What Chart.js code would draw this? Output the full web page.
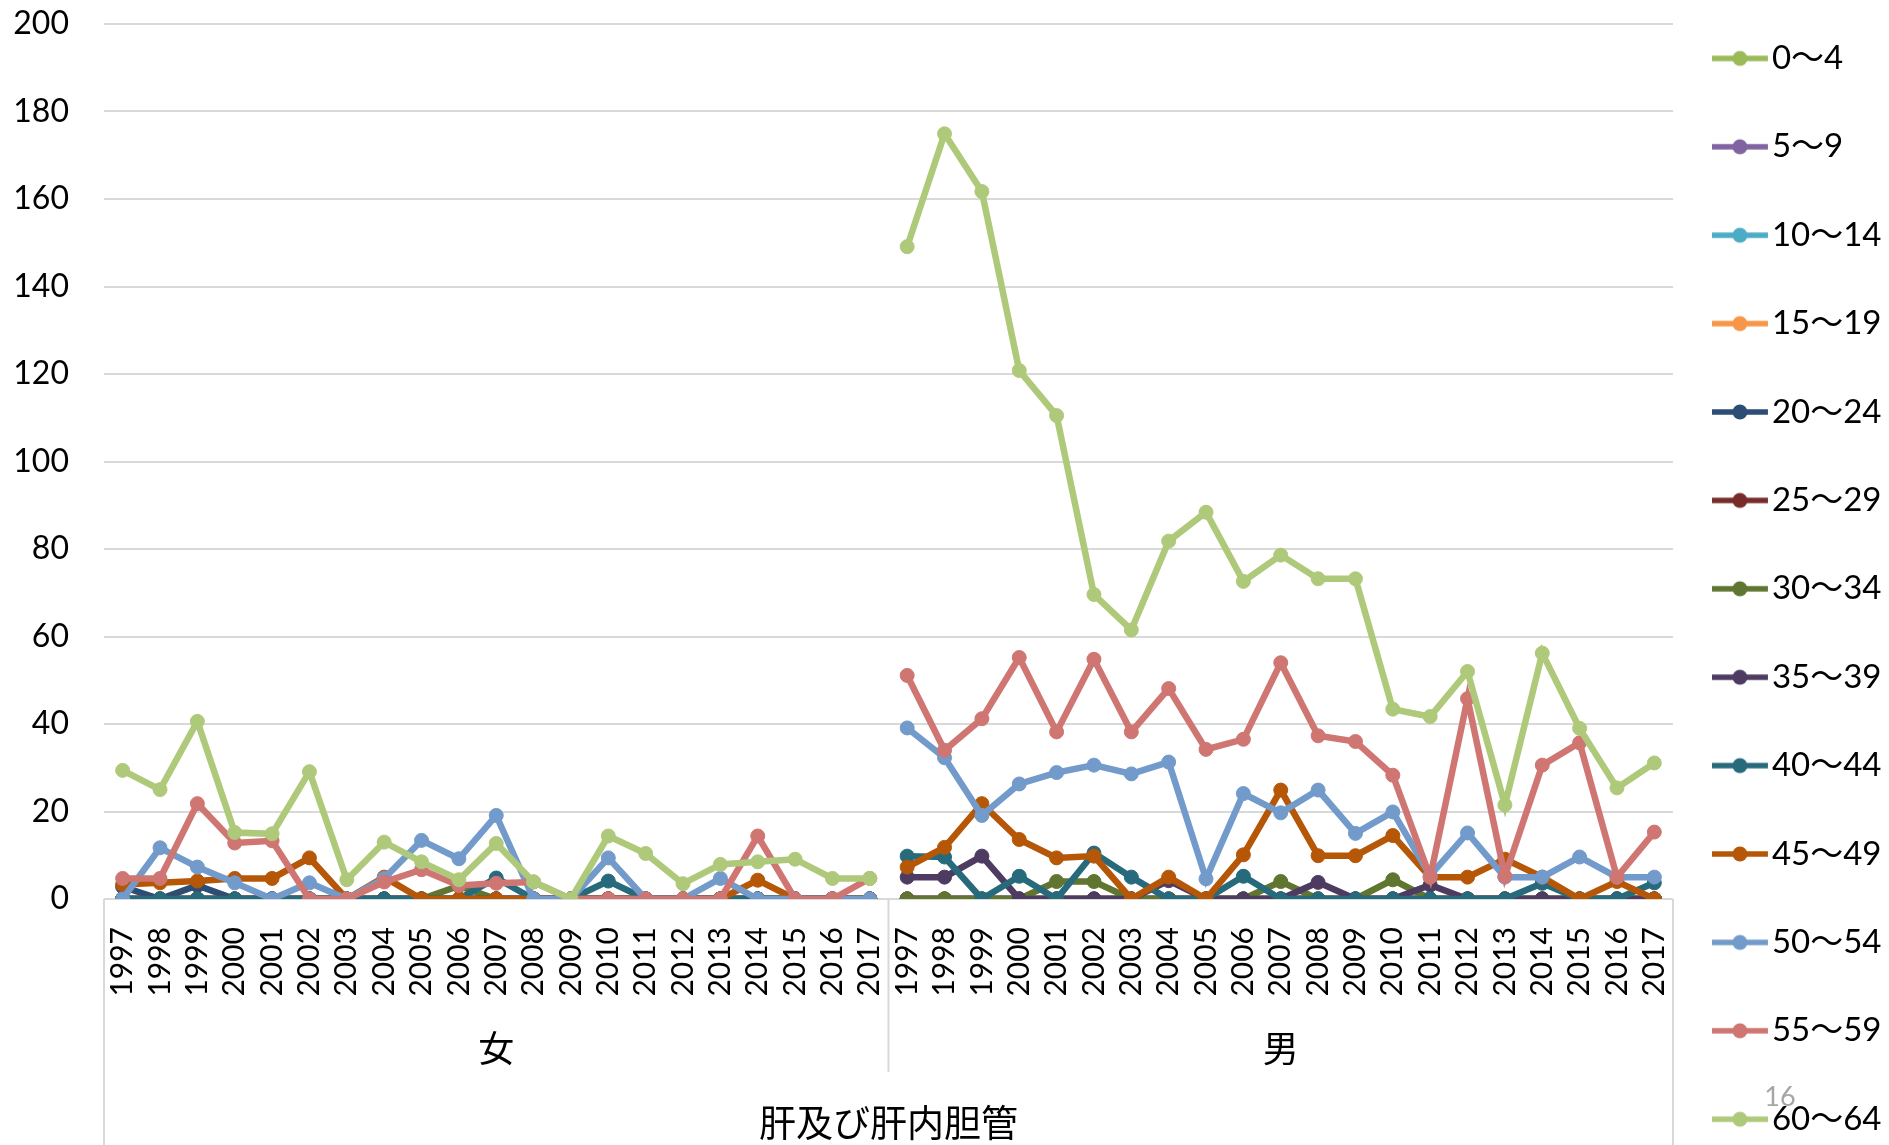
<!DOCTYPE html>
<html lang="ja">
<head>
<meta charset="utf-8">
<title>肝及び肝内胆管</title>
<script src="https://cdn.jsdelivr.net/npm/chart.js@4.4.1/dist/chart.umd.min.js"></script>
<style>
  html, body { margin: 0; padding: 0; background: #fff; overflow: hidden; }
  /* the original chart is cropped at the bottom, so the canvas is taller than the window */
  #clip { width: 1889px; height: 1145px; overflow: hidden; }
  #box { width: 1889px; height: 1320px; }
</style>
</head>
<body>
<div id="clip"><div id="box"><canvas id="liverChart"></canvas></div></div>
<script>
// categories
const years = ['1997', '1998', '1999', '2000', '2001', '2002', '2003', '2004', '2005', '2006', '2007',
               '2008', '2009', '2010', '2011', '2012', '2013', '2014', '2015', '2016', '2017'];
const genders = ['女', '男'];
const site = ['肝及び肝内胆管'];
const ageGroups = ['0～4', '5～9', '10～14', '15～19', '20～24', '25～29', '30～34',
                   '35～39', '40～44', '45～49', '50～54', '55～59', '60～64'];
const yTickValues = [0, 20, 40, 60, 80, 100, 120, 140, 160, 180, 200];

// 女 1997-2017
const f0_4   = [0, 0, 0, 0, 0, 0, 0, 0, 0, 0, 0, 0, 0, 0, 0, 0, 0, 0, 0, 0, 0];
const f5_9   = [0, 0, 0, 0, 0, 0, 0, 0, 0, 0, 0, 0, 0, 0, 0, 0, 0, 0, 0, 0, 0];
const f10_14 = [0, 0, 0, 0, 0, 0, 0, 0, 0, 0, 0, 0, 0, 0, 0, 0, 0, 0, 0, 0, 0];
const f15_19 = [0, 0, 0, 0, 0, 0, 0, 0, 0, 0, 0, 0, 0, 0, 0, 0, 0, 0, 0, 0, 0];
const f20_24 = [2.8, 0, 3.1, 0, 0, 0, 0, 0, 0, 0, 0, 0, 0, 0, 0, 0, 0, 0, 0, 0, 0];
const f25_29 = [0, 0, 0, 0, 0, 0, 0, 0, 0, 0, 0, 0, 0, 0, 0, 0, 0, 0, 0, 0, 0];
const f30_34 = [0, 0, 0, 0, 0, 0, 0, 0, 0, 3.0, 0, 0, 0, 0, 0, 0, 0, 0, 0, 0, 0];
const f35_39 = [0, 0, 0, 0, 0, 0, 0, 0, 0, 0, 0, 0, 0, 0, 0, 0, 0, 0, 0, 0, 0];
const f40_44 = [0, 0, 0, 0, 0, 0, 0, 0, 0, 0, 4.8, 0, 0, 4.1, 0, 0, 0, 0, 0, 0, 0];
const f45_49 = [3.3, 3.7, 4.1, 4.7, 4.7, 9.4, 0, 5.0, 0, 0, 0, 0, 0, 0, 0, 0, 0, 4.3, 0, 0, 0];
const f50_54 = [0, 11.7, 7.3, 3.7, 0, 3.7, 0, 4.7, 13.4, 9.2, 19.1, 0, 0, 9.4, 0, 0, 4.7, 0, 0, 0, 0];
const f55_59 = [4.7, 4.7, 21.8, 12.8, 13.3, 0, 0, 3.9, 6.7, 3.1, 3.6, 3.9, 0, 0, 0, 0, 0, 14.4, 0, 0, 4.7];
const f60_64 = [29.4, 25.0, 40.6, 15.2, 14.9, 29.1, 4.4, 13.0, 8.5, 4.4, 12.7, 3.9, 0, 14.4, 10.4, 3.5, 7.9, 8.5, 9.1, 4.7, 4.7];

// 男 1997-2017
const m0_4   = [0, 0, 0, 0, 0, 0, 0, 0, 0, 0, 0, 0, 0, 0, 0, 0, 0, 0, 0, 0, 0];
const m5_9   = [0, 0, 0, 0, 0, 0, 0, 0, 0, 0, 0, 0, 0, 0, 0, 0, 0, 0, 0, 0, 0];
const m10_14 = [0, 0, 0, 0, 0, 0, 0, 0, 0, 0, 0, 0, 0, 0, 0, 0, 0, 0, 0, 0, 0];
const m15_19 = [0, 0, 0, 0, 0, 0, 0, 0, 0, 0, 0, 0, 0, 0, 0, 0, 0, 0, 0, 0, 0];
const m20_24 = [0, 0, 0, 0, 0, 0, 0, 0, 0, 0, 0, 0, 0, 0, 0, 0, 0, 0, 0, 0, 0];
const m25_29 = [0, 0, 0, 0, 0, 0, 0, 0, 0, 0, 0, 0, 0, 0, 0, 0, 0, 0, 0, 0, 0];
const m30_34 = [0, 0, 0, 0, 4.0, 4.0, 0, 0, 0, 0, 4.0, 0, 0, 4.4, 0, 0, 0, 0, 0, 0, 0];
const m35_39 = [5.0, 5.0, 9.8, 0, 0, 0, 0, 4.2, 0, 0, 0, 3.8, 0, 0, 3.2, 0, 0, 0, 0, 0, 0];
const m40_44 = [9.8, 9.6, 0, 5.2, 0, 10.5, 5.0, 0, 0, 5.2, 0, 0, 0, 0, 0, 0, 0, 3.6, 0, 0, 3.7];
const m45_49 = [7.3, 11.8, 21.8, 13.6, 9.4, 9.8, 0, 5.0, 0, 10.1, 24.9, 9.9, 9.9, 14.5, 5.0, 5.0, 9.1, 5.0, 0, 4.0, 0];
const m50_54 = [39.1, 32.3, 19.1, 26.3, 28.9, 30.6, 28.6, 31.3, 4.6, 24.1, 19.7, 24.9, 15.0, 19.9, 5.4, 15.1, 5.0, 5.0, 9.6, 5.0, 5.0];
const m55_59 = [51.1, 34.0, 41.2, 55.2, 38.2, 54.8, 38.2, 48.1, 34.2, 36.5, 54.0, 37.3, 36.0, 28.3, 5.0, 45.8, 5.2, 30.6, 35.7, 5.0, 15.3];
const m60_64 = [149.1, 174.9, 161.7, 120.8, 110.5, 69.6, 61.5, 81.8, 88.4, 72.6, 78.6, 73.2, 73.2, 43.4, 41.7, 52.0, 21.5, 56.2, 39.0, 25.4, 31.1];

const femaleValues = [f0_4, f5_9, f10_14, f15_19, f20_24, f25_29, f30_34, f35_39, f40_44, f45_49, f50_54, f55_59, f60_64];
const maleValues   = [m0_4, m5_9, m10_14, m15_19, m20_24, m25_29, m30_34, m35_39, m40_44, m45_49, m50_54, m55_59, m60_64];

const seriesColors = ['#9BBB59', '#8064A2', '#4BACC6', '#F79646', '#2C4D75', '#772C2A', '#5F7530',
                      '#4D3B62', '#276A7C', '#B65708', '#729ACA', '#CF7673', '#AFC97A'];

const FONT = "Lato, 'Noto Sans CJK JP', sans-serif";
const CJK = "'Noto Sans CJK JP', sans-serif";
const CANVAS_H = 1320;
const PLOT_BOTTOM = 899;

Chart.defaults.font.family = FONT;
Chart.defaults.color = '#000';

// legend marker: line with a dot, like the spreadsheet legend
function legendIcon(color) {
    const c = document.createElement('canvas');
    c.width = 60;
    c.height = 18;
    const g = c.getContext('2d');
    g.strokeStyle = color;
    g.lineWidth = 5.5;
    g.beginPath();
    g.moveTo(0, 9);
    g.lineTo(56, 9);
    g.stroke();
    g.fillStyle = color;
    g.beginPath();
    g.arc(28, 9, 7.5, 0, Math.PI * 2);
    g.fill();
    return c;
}
const icons = seriesColors.map(legendIcon);

// vertical separators of the category axis + page number
const categoryDividers = {
    id: 'categoryDividers',
    afterDraw(chart) {
        const { ctx, chartArea, scales } = chart;
        const xs = scales.x;
        const mid = (xs.getPixelForValue(years.length - 1) + xs.getPixelForValue(years.length)) / 2;
        ctx.save();
        ctx.strokeStyle = '#D9D9D9';
        ctx.lineWidth = 2;
        ctx.beginPath();
        ctx.moveTo(chartArea.left, chartArea.bottom);
        ctx.lineTo(chartArea.left, chart.height);
        ctx.moveTo(mid, chartArea.bottom);
        ctx.lineTo(mid, scales.x2.bottom + 3);
        ctx.moveTo(chartArea.right, chartArea.bottom);
        ctx.lineTo(chartArea.right, chart.height);
        ctx.stroke();
        ctx.fillStyle = '#A6A6A6';
        ctx.font = '27px Lato';
        ctx.textAlign = 'center';
        ctx.textBaseline = 'middle';
        ctx.fillText('16', 1780, 1097);
        ctx.restore();
    }
};

const datasets = ageGroups.map((label, i) => ({
    label: label,
    data: femaleValues[i].concat(maleValues[i]),
    borderColor: seriesColors[i],
    backgroundColor: seriesColors[i],
    pointBackgroundColor: seriesColors[i],
    pointBorderColor: seriesColors[i],
    borderWidth: 6.5,
    pointRadius: 7,
    pointBorderWidth: 1,
    pointHoverRadius: 7,
    tension: 0,
    order: ageGroups.length - 1 - i,   // later series on top
    segment: {
        // no line between 女 2017 and 男 1997
        borderColor: ctx => ctx.p0DataIndex === years.length - 1 ? 'rgba(0,0,0,0)' : undefined
    }
}));

const config = {
    type: 'line',
    data: {
        labels: years.concat(years),
        datasets: datasets
    },
    options: {
        responsive: true,
        maintainAspectRatio: false,
        animation: false,
        events: [],
        layout: { padding: { top: -13.5, left: 10.3, right: 0, bottom: 0 } },
        plugins: {
            tooltip: { enabled: false },
            legend: {
                position: 'right',
                align: 'start',
                maxWidth: 216,
                labels: {
                    usePointStyle: true,
                    pointStyleWidth: 27,
                    padding: 55.4,
                    color: '#000',
                    font: { family: FONT, size: 33 },
                    generateLabels: chart => chart.data.datasets.map((ds, i) => ({
                        text: ds.label,
                        datasetIndex: i,
                        pointStyle: icons[i],
                        fillStyle: ds.borderColor,
                        strokeStyle: ds.borderColor,
                        lineWidth: 0,
                        hidden: false,
                        fontColor: '#000'
                    }))
                }
            }
        },
        scales: {
            x: {
                type: 'category',
                offset: true,
                weight: 0,
                grid: { display: false, drawTicks: false },
                border: { display: false },
                ticks: {
                    autoSkip: false,
                    minRotation: 90,
                    maxRotation: 90,
                    padding: 28,
                    color: '#000',
                    font: { family: FONT, size: 30 }
                },
                afterFit: s => { s.height = 98; }
            },
            x2: {
                type: 'category',
                labels: genders,
                position: 'bottom',
                offset: true,
                weight: 1,
                grid: { display: false, drawTicks: false },
                border: { display: false },
                ticks: { autoSkip: false, maxRotation: 0, padding: 30, color: '#000', font: { family: CJK, size: 36 } },
                afterFit: s => { s.height = 72; }
            },
            x3: {
                type: 'category',
                labels: site,
                position: 'bottom',
                offset: true,
                weight: 2,
                grid: { display: false, drawTicks: false },
                border: { display: false },
                ticks: { autoSkip: false, maxRotation: 0, padding: 32, color: '#000', font: { family: CJK, size: 37 } },
                afterFit: s => { s.height = CANVAS_H - PLOT_BOTTOM - 98 - 72; }
            },
            y: {
                min: 0,
                max: 200,
                afterBuildTicks: s => { s.ticks = yTickValues.map(v => ({ value: v })); },
                grid: { color: '#D9D9D9', lineWidth: 2, drawTicks: true, tickLength: 32, tickColor: 'rgba(0,0,0,0)' },
                border: { display: false },
                ticks: { padding: 3, color: '#000', font: { family: FONT, size: 32, lineHeight: 1.3125 } }
            }
        }
    },
    plugins: [categoryDividers]
};

const liverChart = document.querySelector('#liverChart');
if (liverChart) {
    new Chart(liverChart, config);
} else {
    console.error('Canvas element #liverChart not found');
}
</script>
</body>
</html>
